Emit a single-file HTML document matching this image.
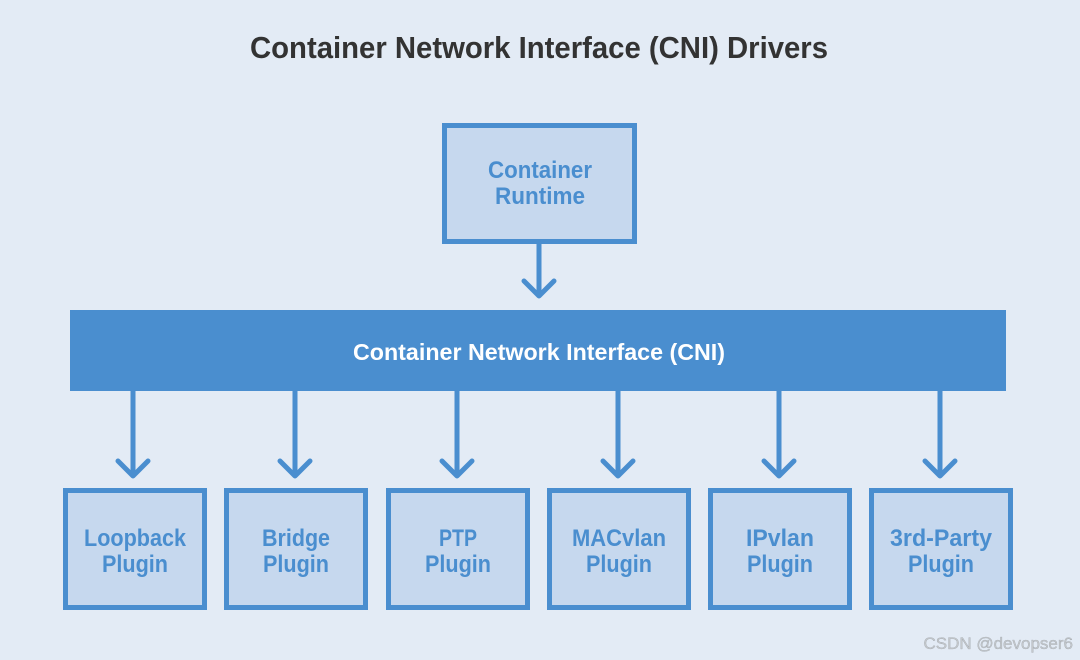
<!DOCTYPE html>
<html><head><meta charset="utf-8"><style>
html,body{margin:0;padding:0;background:#e3ebf5;}
svg{display:block}
</style></head><body>
<svg width="1080" height="660" viewBox="0 0 1080 660" xmlns="http://www.w3.org/2000/svg" font-family="'Liberation Sans Narrow','Liberation Sans',sans-serif" font-weight="bold">
<rect width="1080" height="660" fill="#e3ebf5"/>
<text x="539" y="58" text-anchor="middle" font-size="31" fill="#333" textLength="578" lengthAdjust="spacingAndGlyphs">Container Network Interface (CNI) Drivers</text>
<g fill="#c6d8ee" stroke="#4a8ecf" stroke-width="5">
<rect x="444.5" y="125.5" width="190" height="116"/>
<rect x="65.5" y="490.5" width="139" height="117"/>
<rect x="226.5" y="490.5" width="139" height="117"/>
<rect x="388.5" y="490.5" width="139" height="117"/>
<rect x="549.5" y="490.5" width="139" height="117"/>
<rect x="710.5" y="490.5" width="139" height="117"/>
<rect x="871.5" y="490.5" width="139" height="117"/>
</g>
<rect x="70" y="310" width="936" height="81" fill="#4a8ecf"/>
<g stroke="#4a8ecf" stroke-width="5" fill="none" stroke-linecap="round" stroke-linejoin="round">
<path d="M539 243V296M524 281L539 296L554 281"/>
<path d="M133 391V476M118 461L133 476L148 461"/>
<path d="M295 391V476M280 461L295 476L310 461"/>
<path d="M457 391V476M442 461L457 476L472 461"/>
<path d="M618 391V476M603 461L618 476L633 461"/>
<path d="M779 391V476M764 461L779 476L794 461"/>
<path d="M940 391V476M925 461L940 476L955 461"/>
</g>
<text x="539" y="360" text-anchor="middle" font-size="23" fill="#fff" textLength="372" lengthAdjust="spacingAndGlyphs">Container Network Interface (CNI)</text>
<g font-size="24" fill="#4a8ecf" text-anchor="middle">
<text x="540" y="178" textLength="104" lengthAdjust="spacingAndGlyphs">Container</text>
<text x="540" y="204" textLength="90" lengthAdjust="spacingAndGlyphs">Runtime</text>
<text x="135" y="546" textLength="102" lengthAdjust="spacingAndGlyphs">Loopback</text>
<text x="135" y="572" textLength="66" lengthAdjust="spacingAndGlyphs">Plugin</text>
<text x="296" y="546" textLength="68" lengthAdjust="spacingAndGlyphs">Bridge</text>
<text x="296" y="572" textLength="66" lengthAdjust="spacingAndGlyphs">Plugin</text>
<text x="458" y="546" textLength="38" lengthAdjust="spacingAndGlyphs">PTP</text>
<text x="458" y="572" textLength="66" lengthAdjust="spacingAndGlyphs">Plugin</text>
<text x="619" y="546" textLength="94" lengthAdjust="spacingAndGlyphs">MACvlan</text>
<text x="619" y="572" textLength="66" lengthAdjust="spacingAndGlyphs">Plugin</text>
<text x="780" y="546" textLength="68" lengthAdjust="spacingAndGlyphs">IPvlan</text>
<text x="780" y="572" textLength="66" lengthAdjust="spacingAndGlyphs">Plugin</text>
<text x="941" y="546" textLength="102" lengthAdjust="spacingAndGlyphs">3rd-Party</text>
<text x="941" y="572" textLength="66" lengthAdjust="spacingAndGlyphs">Plugin</text>
</g>
<text x="1073" y="649" text-anchor="end" font-family="'Liberation Sans',sans-serif" font-weight="normal" font-size="17" fill="#c4c8cc" stroke="#9aa0a6" stroke-width="0.3">CSDN @devopser6</text>
</svg>
</body></html>
